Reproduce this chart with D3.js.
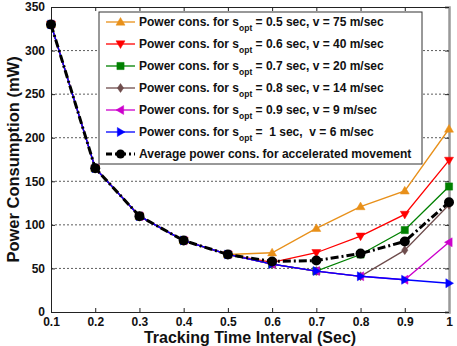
<!DOCTYPE html>
<html>
<head>
<meta charset="utf-8">
<script src="https://cdn.jsdelivr.net/npm/d3@7"></script>
<style>
  body { margin: 0; background: #fff; }
  svg { display: block; font-family: "Liberation Sans", Arial, sans-serif; }
</style>
</head>
<body>
<svg width="457" height="346"></svg>
<script>
// data
const xs = [0.1, 0.2, 0.3, 0.4, 0.5, 0.6, 0.7, 0.8, 0.9, 1.0];
const s05 = [330, 165, 110, 82, 66, 68, 96, 121, 139, 210];
const s06 = [330, 165, 110, 82, 66, 57, 68, 87, 112, 174];
const s07 = [330, 165, 110, 82, 66, 55, 47, 66, 94, 144];
const s08 = [330, 165, 110, 82, 66, 55, 47, 41, 71, 123];
const s09 = [330, 165, 110, 82, 66, 55, 47, 41, 37, 80];
const s10 = [330, 165, 110, 82, 66, 55, 47, 41, 37, 33];
const avg = [330, 165, 110, 82, 66, 58, 59, 67, 81, 126];
const yTicks = [0, 50, 100, 150, 200, 250, 300, 350];
const xTickLabels = ["0.1", "0.2", "0.3", "0.4", "0.5", "0.6", "0.7", "0.8", "0.9", "1"];
const legendNames = [
  "0.5 sec, v = 75 m/sec",
  "0.6 sec, v = 40 m/sec",
  "0.7 sec, v = 20 m/sec",
  "0.8 sec, v = 14 m/sec",
  "0.9 sec, v = 9 m/sec",
  " 1 sec,  v = 6 m/sec"
];

const series = [
  {vals: s05, color: "#e8901a", sym: "tri"},
  {vals: s06, color: "#ff0000", sym: "triDown"},
  {vals: s07, color: "#008000", sym: "square"},
  {vals: s08, color: "#6e4c4c", sym: "diamond"},
  {vals: s09, color: "#cc00cc", sym: "triLeft"},
  {vals: s10, color: "#0000ff", sym: "triRight"}
];

const svg = d3.select("svg");
const m = {left: 51, right: 449, top: 7, bottom: 312};

const scX = d3.scaleLinear().domain([0.1, 1]).range([m.left, m.right]);
const scY = d3.scaleLinear().domain([0, 350]).range([m.bottom, m.top]);

// grid lines (horizontal only)
svg.append("g")
  .selectAll("line")
  .data(yTicks.slice(1, -1))
  .enter().append("line")
  .attr("x1", m.left).attr("x2", m.right)
  .attr("y1", d => scY(d)).attr("y2", d => scY(d))
  .style("stroke", "#333").style("stroke-width", 0.8)
  .style("stroke-dasharray", "2,2");

// axes, ticks inward
const axB = svg.append("g").attr("transform", `translate(0,${m.bottom})`)
  .call(d3.axisBottom(scX).tickValues(xs).tickSize(-4).tickPadding(5)
    .tickFormat((d, i) => xTickLabels[i]));
const axT = svg.append("g").attr("transform", `translate(0,${m.top})`)
  .call(d3.axisTop(scX).tickValues(xs).tickSize(-4).tickFormat(""));
const axL = svg.append("g").attr("transform", `translate(${m.left},0)`)
  .call(d3.axisLeft(scY).tickValues(yTicks).tickSize(-4).tickPadding(6));
const axR = svg.append("g").attr("transform", `translate(${m.right},0)`)
  .call(d3.axisRight(scY).tickValues(yTicks).tickSize(-4).tickFormat(""));
[axB, axT, axL, axR].forEach(a => {
  a.select(".domain").style("stroke", "#222").style("stroke-width", 1);
  a.selectAll(".tick line").style("stroke", "#222");
  a.selectAll("text").style("font-size", "12px").style("font-weight", "bold")
    .style("fill", "#111").style("font-family", "'Liberation Sans', Arial, sans-serif");
});
axR.select(".domain").style("stroke", "#999").style("stroke-width", 2.5);

// symbols
function marker(g, sym, x, y, color, s) {
  s = s || 4.5;
  let pts;
  if (sym === "tri") pts = [[0, -s], [s, s * 0.7], [-s, s * 0.7]];
  if (sym === "triDown") pts = [[0, s], [s, -s * 0.7], [-s, -s * 0.7]];
  if (sym === "triLeft") pts = [[-s, 0], [s * 0.7, -s], [s * 0.7, s]];
  if (sym === "triRight") pts = [[s, 0], [-s * 0.7, -s], [-s * 0.7, s]];
  if (sym === "diamond") pts = [[0, -s], [s * 0.7, 0], [0, s], [-s * 0.7, 0]];
  if (sym === "square") pts = [[-s * 0.8, -s * 0.8], [s * 0.8, -s * 0.8], [s * 0.8, s * 0.8], [-s * 0.8, s * 0.8]];
  g.append("polygon")
    .attr("points", pts.map(p => [x + p[0], y + p[1]].join(",")).join(" "))
    .style("fill", color).style("stroke", color).style("stroke-width", 0.5);
}

const line = d3.line().x((d, i) => scX(xs[i])).y(d => scY(d));

series.forEach(s => {
  const g = svg.append("g");
  g.append("path").datum(s.vals).attr("d", line)
    .style("fill", "none").style("stroke", s.color).style("stroke-width", 1.3);
  s.vals.forEach((v, i) => marker(g, s.sym, scX(xs[i]), scY(v), s.color));
});

// average
const ga = svg.append("g");
ga.append("path").datum(avg).attr("d", line)
  .style("fill", "none").style("stroke", "#000").style("stroke-width", 3)
  .style("stroke-dasharray", "8,3,2,3");
ga.selectAll("circle").data(avg).enter().append("circle")
  .attr("cx", (d, i) => scX(xs[i])).attr("cy", d => scY(d)).attr("r", 5)
  .style("fill", "#000");

// legend
const lg = svg.append("g");
lg.append("rect").attr("x", 99).attr("y", 12).attr("width", 323).attr("height", 152)
  .style("fill", "#fff").style("stroke", "#333").style("stroke-width", 1);
const rowY = [22, 44, 66, 88, 110, 132, 154];
series.forEach((s, i) => {
  lg.append("line").attr("x1", 106).attr("x2", 135).attr("y1", rowY[i]).attr("y2", rowY[i])
    .style("stroke", s.color).style("stroke-width", 1.3);
  marker(lg, s.sym, 120.5, rowY[i], s.color);
  const t = lg.append("text").attr("x", 139).attr("y", rowY[i] + 4)
    .style("font-size", "12px").style("font-weight", "bold").style("fill", "#111")
    .style("white-space", "pre");
  t.append("tspan").text("Power cons. for s");
  t.append("tspan").attr("dy", 5).style("font-size", "8.5px").text("opt");
  t.append("tspan").attr("dy", -5).text(" = " + legendNames[i]);
});
lg.append("line").attr("x1", 106).attr("x2", 135).attr("y1", rowY[6]).attr("y2", rowY[6])
  .style("stroke", "#000").style("stroke-width", 3).style("stroke-dasharray", "6,3,2,3");
lg.append("circle").attr("cx", 120.5).attr("cy", rowY[6]).attr("r", 4.5).style("fill", "#000");
lg.append("text").attr("x", 139).attr("y", rowY[6] + 4)
  .style("font-size", "12px").style("font-weight", "bold").style("fill", "#111")
  .text("Average power cons. for accelerated movement");

// axis titles
svg.append("text").attr("x", (m.left + m.right) / 2).attr("y", 343)
  .attr("text-anchor", "middle").style("font-size", "16px").style("font-weight", "bold")
  .style("fill", "#111").text("Tracking Time Interval (Sec)");
svg.append("text").attr("transform", `translate(19,${(m.top + m.bottom) / 2}) rotate(-90)`)
  .attr("text-anchor", "middle").style("font-size", "16.5px").style("font-weight", "bold")
  .style("fill", "#111").text("Power Consumption (mW)");
</script>
</body>
</html>
